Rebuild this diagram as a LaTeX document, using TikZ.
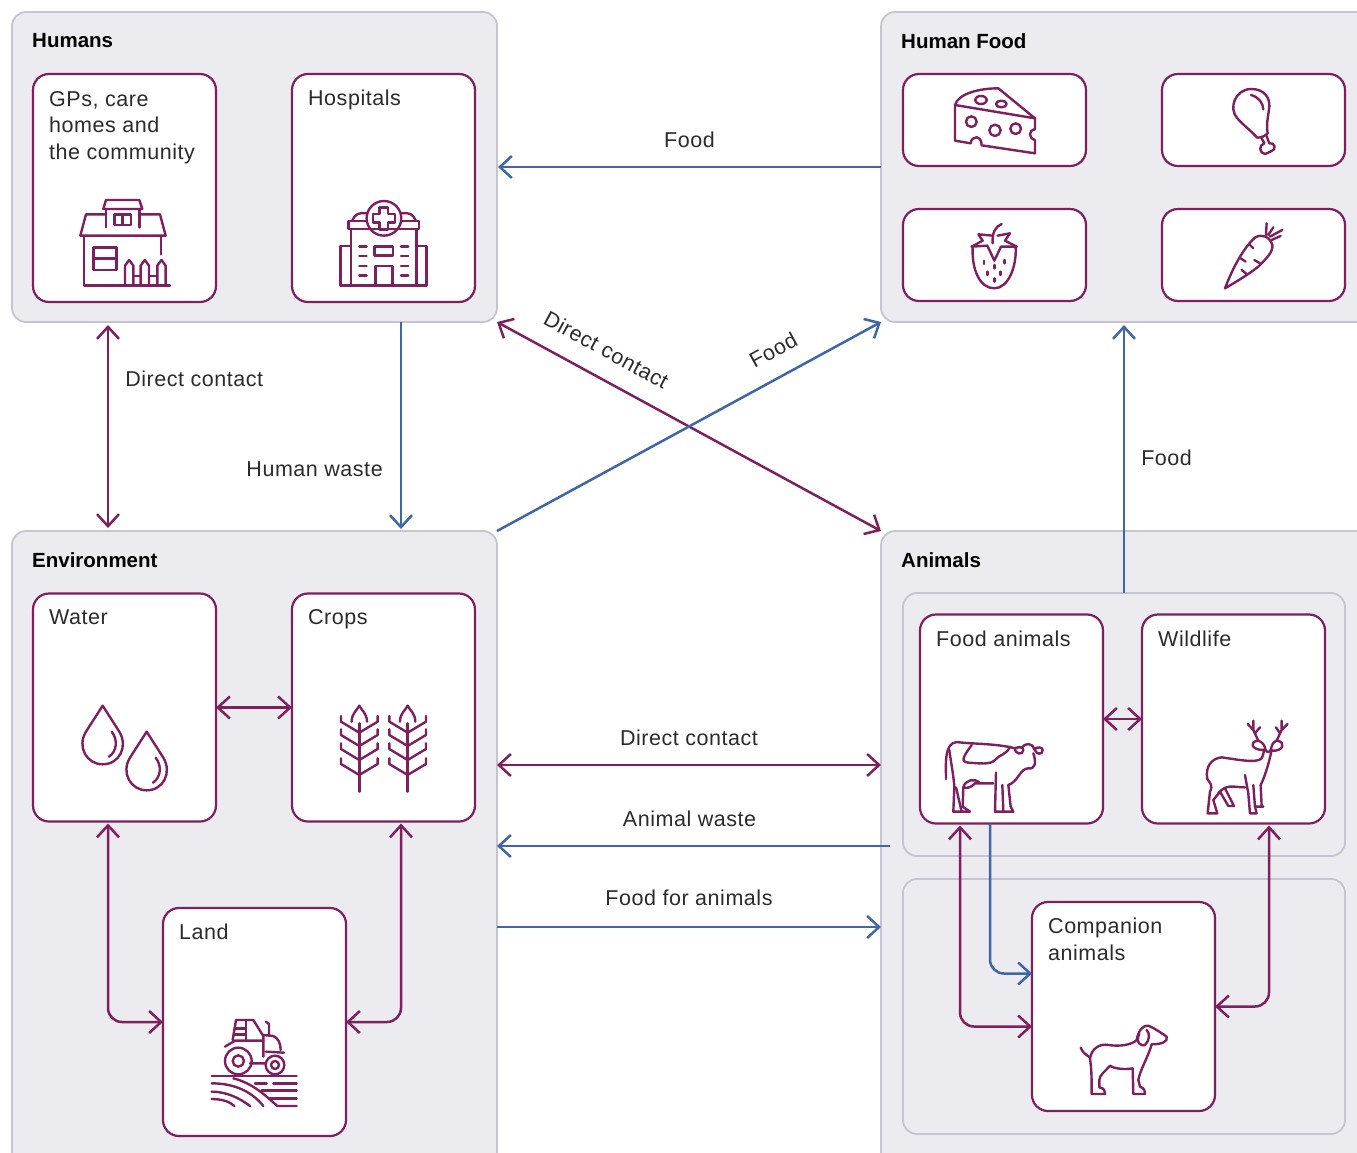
\documentclass[tikz,border=0pt]{standalone}
\usepackage{fontspec}
\setmainfont[LetterSpace=2.5]{Liberation Sans}
\usetikzlibrary{arrows.meta,positioning}
\definecolor{plum}{HTML}{7E1F5E}
\definecolor{linkblue}{HTML}{3F66A6}
\definecolor{panelgrey}{HTML}{ECEBF0}
\definecolor{panelline}{HTML}{C6C4D0}
\definecolor{inktext}{HTML}{2B2B2B}
\tikzset{
  panel/.style={draw=panelline,fill=panelgrey,line width=1.8pt,rounded corners=14pt,inner sep=0pt,outer sep=0pt},
  whitebox/.style={draw=plum,fill=white,line width=2.2pt,rounded corners=16pt,inner sep=0pt,outer sep=0pt,minimum width=183pt},
  tallbox/.style={whitebox,minimum height=228pt},
  midbox/.style={whitebox,minimum height=209pt},
  lowbox/.style={whitebox,minimum height=92pt},
  paneltitle/.style={inner sep=0pt,text=black,font=\fontsize{20.5}{26}\selectfont\bfseries\addfontfeature{LetterSpace=0}},
  boxtxt/.style={inner sep=0pt,align=left,text=inktext,font=\fontsize{21.5}{26.5}\selectfont},
  linktxt/.style={inner sep=0pt,text depth=0pt,text=inktext,font=\fontsize{21.5}{26.5}\selectfont},
  bluelink/.style={color=linkblue,line width=2.5pt,>={Straight Barb[length=12pt,width=22pt]}},
  purplelink/.style={color=plum,line width=2.5pt,>={Straight Barb[length=12pt,width=22pt]}},
  iconline/.style={draw=plum,line width=2.4pt,line cap=round,line join=round},
  icon/.style={scale=0.3333},
  pics/farmhouse/.style={code={
    \draw[iconline] (250,117)--(258,90)--(358,90)--(367,117)--cycle;
    \draw[iconline] (258,117)--(258,172) (358,117)--(358,172);
    \draw[iconline] (283,133) rectangle (333,165) (308,133)--(308,165);
    \draw[iconline] (258,133)--(198,133)--(181,197)--(437,197)--(420,133)--(358,133);
    \draw[iconline] (192,197)--(192,346)--(450,346) (423,197)--(423,253);
    \draw[iconline] (220,233) rectangle (289,300) (220,265)--(289,265);
    \foreach \px in {315,362,412}
      \draw[iconline] (\px,346)--(\px,287)--(\px+12.5,270)--(\px+25,287)--(\px+25,346);
    \draw[iconline] (340,318)--(362,318) (387,318)--(412,318);
  }},
  pics/clinic/.style={code={
    \draw[iconline] (1092,145) circle (52);
    \draw[iconline] (1079,112)--(1105,112)--(1105,132)--(1125,132)--(1125,158)--(1105,158)--(1105,178)--(1079,178)--(1079,158)--(1059,158)--(1059,132)--(1079,132)--cycle;
    \draw[iconline] (1040,153)--(985,153)--(985,177)--(1198,177)--(1198,153)--(1145,153);
    \draw[iconline] (997,152) .. controls (1002,133) and (1020,126) .. (1040,130);
    \draw[iconline] (1187,152) .. controls (1182,133) and (1165,126) .. (1145,130);
    \draw[iconline] (993,177)--(993,346) (1190,177)--(1190,346) (962,346)--(1220,346);
    \draw[iconline] (993,228)--(962,228)--(962,346) (1190,228)--(1220,228)--(1220,346);
    \draw[iconline] (1063,230) rectangle (1120,257);
    \draw[iconline] (1066,346)--(1066,288)--(1118,288)--(1118,346);
    \foreach \dy in {230,258,288,317}
      \draw[iconline] (1018,\dy)--(1040,\dy) (1143,\dy)--(1165,\dy);
  }},
  pics/cheese/.style={code={
    \draw[iconline] (165,105) .. controls (175,70) and (240,55) .. (295,55)--(405,145)--(165,105);
    \draw[iconline] (165,105)--(165,212)--(212,220) .. controls (215,195) and (245,195) .. (245,226)--(405,250)--(405,210) .. controls (385,205) and (385,180) .. (405,178)--(405,145);
    \draw[iconline] (243,90) ellipse (18 and 12) (304,102) ellipse (16 and 10);
    \draw[iconline] (214,155) circle (16) (285,181) circle (17) (347,176) circle (16);
  }},
  pics/drumstick/.style={code={
    \draw[iconline] (1072,203) .. controls (1050,180) and (1030,165) .. (1012,145) .. controls (985,115) and (1005,58) .. (1053,57) .. controls (1095,57) and (1110,85) .. (1108,110) .. controls (1105,140) and (1098,160) .. (1103,190) .. controls (1095,198) and (1085,203) .. (1072,203);
    \draw[iconline] (1053,75) .. controls (1075,80) and (1090,100) .. (1090,118);
    \draw[iconline] (1085,205)--(1093,220) .. controls (1075,225) and (1078,250) .. (1095,252) .. controls (1105,252) and (1108,243) .. (1115,243) .. controls (1130,240) and (1125,215) .. (1108,220)--(1100,198);
  }},
  pics/berry/.style={code={
    \draw[iconline] (218,533) .. controls (215,600) and (240,655) .. (283,655) .. controls (325,655) and (350,590) .. (347,533);
    \draw[iconline] (215,530)--(248,512)--(235,493)--(278,497);
    \draw[iconline] (350,530)--(315,512)--(330,490)--(293,497);
    \draw[iconline] (215,530)--(262,527)--(283,572)--(303,530)--(350,530);
    \draw[iconline] (278,520) .. controls (276,490) and (285,470) .. (305,462);
    \foreach \sx/\sy in {252/572,283/585,313/570,262/605,302/605,283/625}
      \draw[iconline] (\sx,\sy)--(\sx,\sy+10);
  }},
  pics/carrot/.style={code={
    \draw[iconline] (975,655) .. controls (1000,590) and (1030,535) .. (1065,503) .. controls (1085,490) and (1110,500) .. (1117,525) .. controls (1120,545) and (1100,565) .. (1075,590) .. controls (1050,610) and (1010,635) .. (975,655);
    \draw[iconline] (1047,522)--(1060,535) (1022,565)--(1037,575) (1063,570)--(1080,580) (1025,600)--(1040,612);
    \draw[iconline] (1098,495)--(1100,460) (1105,495)--(1120,472) (1110,500)--(1147,480) (1115,510)--(1142,498);
  }},
  pics/drops/.style={code={
    \foreach \ox/\oy in {0/0,132/78} {
      \draw[iconline] (128+\ox,47+\oy)--(78+\ox,125+\oy) .. controls (50+\ox,170+\oy) and (80+\ox,223+\oy) .. (128+\ox,223+\oy) .. controls (178+\ox,223+\oy) and (205+\ox,170+\oy) .. (178+\ox,125+\oy)--cycle;
      \draw[iconline] (155+\ox,125+\oy) .. controls (175+\ox,150+\oy) and (170+\ox,185+\oy) .. (147+\ox,200+\oy);
    }
  }},
  pics/wheat/.style={code={
    \foreach \cx in {898,1043} {
      \draw[iconline] (\cx,100)--(\cx,305);
      \draw[iconline] (\cx-23,95) .. controls (\cx-23,70) and (\cx-6,60) .. (\cx,47) .. controls (\cx+6,60) and (\cx+23,70) .. (\cx+23,95);
      \foreach \cy in {78,118,160,205}
        \draw[iconline] (\cx-55,\cy)--(\cx-55,\cy+17)--(\cx,\cy+50)--(\cx+55,\cy+17)--(\cx+55,\cy);
    }
  }},
  pics/tractor/.style={code={
    \draw[iconline] (65,228)--(320,228) (250,250)--(320,250) (195,250)--(230,250) (215,272)--(320,272) (240,295)--(320,295);
    \draw[iconline] (130,235) .. controls (190,250) and (230,290) .. (262,318)--(320,318);
    \draw[iconline] (65,250) .. controls (140,250) and (190,280) .. (220,318);
    \draw[iconline] (65,275) .. controls (110,275) and (150,295) .. (180,318);
    \draw[iconline] (65,297) .. controls (95,297) and (120,305) .. (133,318);
    \draw[iconline] (145,183) circle (40) (145,183) circle (17) (255,195) circle (28) (255,195) circle (12);
    \draw[iconline] (128,120)--(138,60)--(190,60)--(218,105);
    \draw[iconline] (168,60)--(168,120) (135,85)--(168,85) (132,103)--(168,103);
    \draw[iconline] (105,140)--(135,122)--(220,122) (220,105)--(250,108) .. controls (265,115) and (272,130) .. (272,150);
    \draw[iconline] (220,105)--(220,170) (228,155)--(282,158) (180,190)--(228,190);
    \draw[iconline] (228,65)--(237,72)--(237,105);
  }},
  pics/cow/.style={code={
    \draw[iconline] (78,237) .. controls (78,190) and (72,130) .. (110,126) .. controls (150,132) and (230,130) .. (285,145);
    \draw[iconline] (285,145) .. controls (285,165) and (310,165) .. (310,150) .. controls (310,140) and (295,140) .. (285,145);
    \draw[iconline] (305,143) .. controls (315,130) and (335,125) .. (343,148) (343,148) .. controls (350,165) and (368,165) .. (368,150) .. controls (368,140) and (350,140) .. (343,148);
    \draw[iconline] (340,160) .. controls (350,190) and (345,208) .. (325,205) .. controls (300,205) and (295,245) .. (265,255);
    \draw[iconline] (265,255)--(272,320)--(280,335)--(250,335)--(247,255);
    \draw[iconline] (228,218)--(225,335)--(250,335);
    \draw[iconline] (220,250)--(165,250) .. controls (150,265) and (140,265) .. (130,262) .. controls (135,240) and (165,232) .. (180,250);
    \draw[iconline] (130,262)--(128,320)--(150,335)--(100,335)--(103,260) .. controls (100,220) and (90,170) .. (88,150);
    \draw[iconline] (108,262)--(125,335);
    \draw[iconline] (155,135) .. controls (130,170) and (120,185) .. (145,188) .. controls (180,190) and (210,195) .. (225,180) .. controls (235,165) and (260,165) .. (270,140);
  }},
  pics/deer/.style={code={
    \draw[iconline] (862,237) .. controls (855,200) and (875,175) .. (905,172) .. controls (960,180) and (1010,190) .. (1025,175) .. controls (1030,165) and (1032,155) .. (1032,148);
    \draw[iconline] (1030,150) .. controls (995,150) and (985,125) .. (1015,122) .. controls (1025,125) and (1035,135) .. (1037,150) .. controls (1040,158) and (1050,158) .. (1053,148) .. controls (1055,135) and (1060,125) .. (1070,122) .. controls (1100,125) and (1090,155) .. (1056,152);
    \draw[iconline] (1055,150) .. controls (1045,200) and (1030,240) .. (1022,255)--(1025,318)--(1030,320)--(1005,320)--(1000,255);
    \draw[iconline] (975,225)--(985,280)--(990,340)--(1010,340)--(1005,320);
    \draw[iconline] (975,262) .. controls (940,262) and (920,250) .. (895,280);
    \draw[iconline] (862,237) .. controls (870,250) and (880,255) .. (870,275)--(863,340)--(892,340)--(880,300)--(900,275)--(925,318)--(942,318)--(915,265);
    \draw[iconline] (1015,122)--(1000,90)--(983,72) (1005,100)--(1020,82) (1000,90)--(1000,62);
    \draw[iconline] (1070,122)--(1085,90)--(1103,72) (1080,100)--(1068,82) (1085,90)--(1085,62);
  }},
  pics/dog/.style={code={
    \draw[iconline] (122,143) .. controls (128,158) and (138,165) .. (150,172);
    \draw[iconline] (150,175) .. controls (155,145) and (180,130) .. (205,135) .. controls (240,140) and (275,135) .. (290,120) .. controls (295,90) and (310,75) .. (325,77) .. controls (345,85) and (365,100) .. (380,110) .. controls (385,125) and (365,133) .. (335,133);
    \draw[iconline] (298,100) .. controls (285,130) and (305,140) .. (315,135) .. controls (330,120) and (330,100) .. (320,90);
    \draw[iconline] (335,133) .. controls (325,170) and (300,210) .. (295,240)--(300,260) .. controls (315,265) and (315,275) .. (315,282)--(280,282)--(278,205) .. controls (250,210) and (220,205) .. (210,197) .. controls (195,215) and (178,225) .. (178,240)--(178,262) .. controls (195,265) and (195,275) .. (195,282)--(155,282) .. controls (155,240) and (155,210) .. (150,175);
  }}
}
\begin{document}
\begin{tikzpicture}[x=1pt,y=-1pt]
\useasboundingbox (0,0) rectangle (1357,1153);
% panels
\node (humans) [panel,minimum width=485pt,minimum height=310pt] at (254.5,167) {};
\node (humanfood) [panel,minimum width=494pt,minimum height=310pt] at (1128,167) {};
\node (environment) [panel,minimum width=485pt,minimum height=644pt] at (254.5,853) {};
\node (animals) [panel,minimum width=494pt,minimum height=644pt] at (1128,853) {};
\node (animalsup) [panel,minimum width=442pt,minimum height=263pt] at (1124,724.5) {};
\node (animalslow) [panel,minimum width=442pt,minimum height=255pt] at (1124,1006.5) {};
\node (humanstitle) [paneltitle,below right=21pt and 20pt of humans.north west] {Humans};
\node (foodtitle) [paneltitle,below right=21pt and 20pt of humanfood.north west] {Human Food};
\node (envtitle) [paneltitle,below right=21pt and 20pt of environment.north west] {Environment};
\node (animalstitle) [paneltitle,below right=21pt and 20pt of animals.north west] {Animals};
% boxes
\node (gps) [tallbox] at (124.5,188) {};
\node (hospitals) [tallbox] at (383.5,188) {};
\node (cheesebox) [lowbox] at (994.5,120) {};
\node (meatbox) [lowbox] at (1253.5,120) {};
\node (berrybox) [lowbox] at (994.5,255) {};
\node (carrotbox) [lowbox] at (1253.5,255) {};
\node (water) [tallbox] at (124.5,707.5) {};
\node (crops) [tallbox] at (383.5,707.5) {};
\node (land) [tallbox] at (254.5,1022) {};
\node (foodanimals) [midbox] at (1011.5,719) {};
\node (wildlife) [midbox] at (1233.5,719) {};
\node (companion) [midbox] at (1123.5,1006.5) {};
\node (gpstxt) [boxtxt,below right=17pt and 16pt of gps.north west] {GPs, care\\homes and\\the community};
\node (hospitalstxt) [boxtxt,below right=16pt and 16pt of hospitals.north west] {Hospitals};
\node (watertxt) [boxtxt,below right=16pt and 16pt of water.north west] {Water};
\node (cropstxt) [boxtxt,below right=16pt and 16pt of crops.north west] {Crops};
\node (landtxt) [boxtxt,below right=16pt and 16pt of land.north west] {Land};
\node (foodanimalstxt) [boxtxt,below right=16pt and 16pt of foodanimals.north west] {Food animals};
\node (wildlifetxt) [boxtxt,below right=16pt and 16pt of wildlife.north west] {Wildlife};
\node (companiontxt) [boxtxt,below right=16pt and 16pt of companion.north west] {Companion\\animals};
% icons
\pic[icon] at (20,170) {farmhouse};
\pic[icon] at (20,170) {clinic};
\pic[icon] at (900,70) {cheese};
\pic[icon] at (900,70) {drumstick};
\pic[icon] at (900,70) {berry};
\pic[icon] at (900,70) {carrot};
\pic[icon] at (60,690) {drops};
\pic[icon] at (60,690) {wheat};
\pic[icon] at (190,1000) {tractor};
\pic[icon] at (920,700) {cow};
\pic[icon] at (920,700) {deer};
\pic[icon] at (1040,1000) {dog};
% links between the panels
\path[bluelink,->](humanfood.west) edge node[linktxt,above=18.5pt] {Food} ([xshift=1pt]humans.east);
\path[purplelink,<->,shorten >=3pt,shorten <=3pt]([xshift=96pt]humans.south west) edge node[linktxt,pos=.27,right=16pt] {Direct contact} ([xshift=96pt]environment.north west);
\path[bluelink,->]([xshift=389pt]humans.south west) edge node[linktxt,pos=.71,left=17pt] {Human waste} ([xshift=389pt,yshift=2pt]environment.north west);
\path[purplelink,<->](humans.south east) edge node[linktxt,sloped,pos=.25,above=19pt] {Direct contact} (animals.north west);
\path[bluelink,->](environment.north east) edge node[linktxt,sloped,pos=.753,above=18pt] {Food} (humanfood.south west);
\path[bluelink,->](animalsup.north) edge node[linktxt,pos=.505,right=16pt] {Food} ([yshift=-3pt]humanfood.south -| animalsup.north);
\path[purplelink,<->]([yshift=88pt]environment.east) edge node[linktxt,above=18.5pt] {Direct contact} ([yshift=88pt]animals.west);
\path[bluelink,->]([xshift=9pt,yshift=7pt]animals.west) edge node[linktxt,pos=.51,above=18.5pt] {Animal waste} ([yshift=7pt]environment.east);
\path[bluelink,->]([yshift=-74pt]environment.east) edge node[linktxt,above=20pt] {Food for animals} ([yshift=-74pt]animals.west);
% links inside the panels
\path[purplelink,<->](water.east) edge (crops.west);
\path[purplelink,<->](foodanimals.east) edge (wildlife.west);
\draw[purplelink,<->,rounded corners=14pt]([xshift=75pt,yshift=-2pt]water.south west) |- (land.west);
\draw[purplelink,<->,rounded corners=14pt]([xshift=109pt,yshift=-2pt]crops.south west) |- (land.east);
\draw[bluelink,->,rounded corners=14pt]([xshift=70pt]foodanimals.south west) |- ([yshift=33pt]companion.west);
\draw[purplelink,<->,rounded corners=14pt]([xshift=40pt,yshift=-2pt]foodanimals.south west) |- ([yshift=-20pt]companion.west);
\draw[purplelink,<->,rounded corners=14pt]([xshift=127pt,yshift=-2pt]wildlife.south west) |- (companion.east);
\end{tikzpicture}
\end{document}
